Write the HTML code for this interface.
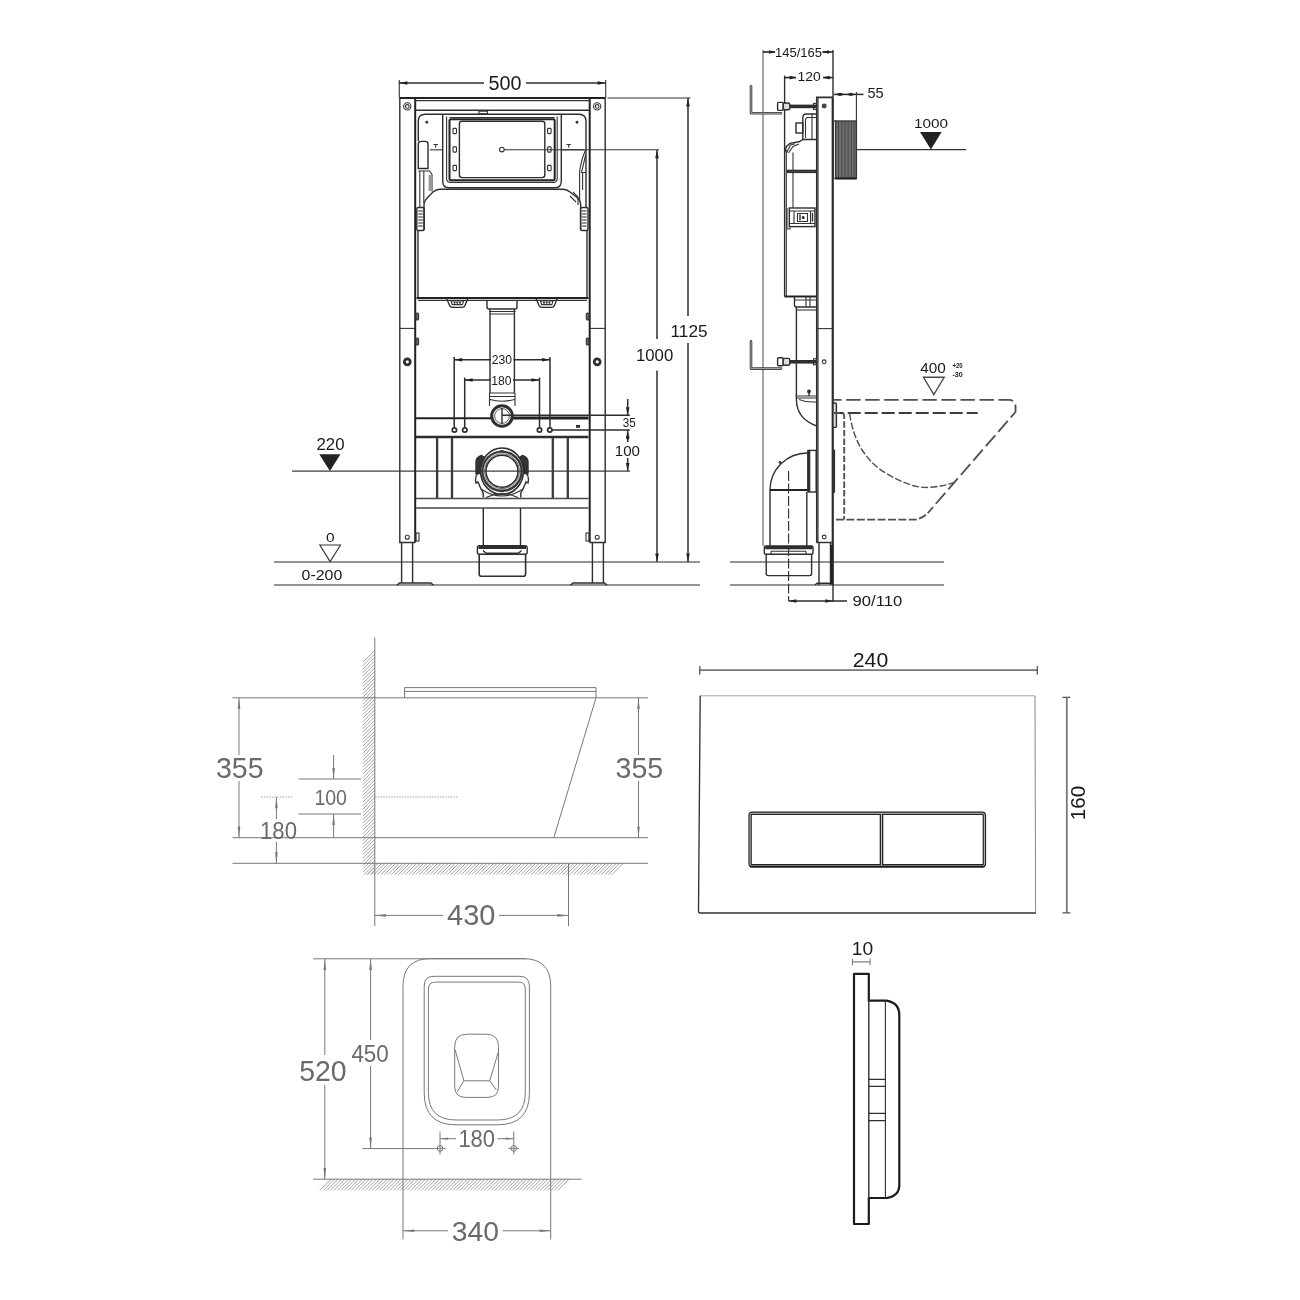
<!DOCTYPE html>
<html><head><meta charset="utf-8"><title>Installation drawing</title>
<style>
html,body{margin:0;padding:0;background:#fff}
svg{display:block;filter:blur(0.4px)}
text{font-family:"Liberation Sans",sans-serif}
.k{fill:none;stroke:#2e2e2e;stroke-width:1.4}
.k2{fill:none;stroke:#222;stroke-width:2}
.k3{fill:none;stroke:#222;stroke-width:2.8}
.t{fill:none;stroke:#333;stroke-width:1.1}
.gr{fill:none;stroke:#707070;stroke-width:1.4}
.h{fill:none;stroke:#6a6a6a;stroke-width:1.2}
.d{fill:none;stroke:#2c2c2c;stroke-width:1.5}
.ds{fill:none;stroke:#505050;stroke-width:1.85;stroke-dasharray:14.45 4.6}
.g{fill:none;stroke:#787878;stroke-width:1}
.gl{fill:none;stroke:#9a9a9a;stroke-width:0.9}
.w{fill:#fff;stroke:#262626;stroke-width:1.4}
.tk{fill:#1a1a1a}
.tg{fill:#6a6a6a}
</style></head><body>
<svg width="1300" height="1300" viewBox="0 0 1300 1300">
<rect x="0" y="0" width="1300" height="1300" fill="#fff"/>
<g id="front">
<line class="t" x1="292" y1="471.1" x2="630" y2="471.1" style="stroke:#3c3c3c;stroke-width:1.3"/>
<line class="gr" x1="274" y1="562" x2="700" y2="562" />
<line class="gr" x1="274" y1="585" x2="700" y2="585" />
<path class="k" d="M415.2 542.5H399.8V98M589.7 542.5H605.2V98" />
<line class="k2" x1="415.2" y1="98" x2="415.2" y2="542.5" />
<line class="k2" x1="589.7" y1="98" x2="589.7" y2="542.5" />
<line class="k2" x1="400" y1="98" x2="605" y2="98" />
<line class="t" x1="415.2" y1="100.6" x2="589.7" y2="100.6" />
<line class="k" x1="415.2" y1="110.3" x2="589.7" y2="110.3" />
<line class="t" x1="400" y1="328.4" x2="415" y2="328.4" />
<line class="t" x1="590" y1="328.4" x2="605" y2="328.4" />
<path class="k" d="M401.6 542.5V583M412.6 542.5V583M592.4 542.5V583M603.4 542.5V583" />
<path class="k" d="M397 585.2L399.5 583H431l2.5 2.2M570.5 585.2l2.5-2.2H604.5l2.5 2.2" />
<circle class="t" cx="407.3" cy="106.4" r="3.6" />
<circle class="t" cx="407.3" cy="106.4" r="1.8" />
<circle class="k" cx="407.3" cy="361.8" r="3" style="stroke-width:2.7"/>
<circle class="t" cx="407.3" cy="537.2" r="2" />
<circle class="t" cx="597.2" cy="106.4" r="3.6" />
<circle class="t" cx="597.2" cy="106.4" r="1.8" />
<circle class="k" cx="597.2" cy="361.8" r="3" style="stroke-width:2.7"/>
<circle class="t" cx="597.2" cy="537.2" r="2" />
<rect class="t" x="416" y="313.0" width="2.6" height="7.0" rx="1" style="fill:#666"/>
<rect class="t" x="586.3" y="313.0" width="2.6" height="7.0" rx="1" style="fill:#666"/>
<rect class="t" x="416" y="338.0" width="2.6" height="7.0" rx="1" style="fill:#666"/>
<rect class="t" x="586.3" y="338.0" width="2.6" height="7.0" rx="1" style="fill:#666"/>
<rect class="t" x="416" y="533" width="3" height="8" rx="0" />
<rect class="t" x="586" y="533" width="3" height="8" rx="0" />
<path class="k" d="M418.3 141V121.2Q418.3 114.2 425.3 114.2H579Q586 114.2 586 121.2V207" />
<path class="k" d="M442.7 114.6V181Q442.7 187.7 449 187.7H555Q561.3 187.7 561.3 181V114.6" />
<path class="t" d="M446.6 116.6V178.5Q446.6 182.4 450.5 182.4H553.3Q557.2 182.4 557.2 178.5V116.6" />
<rect class="k2" x="449.5" y="119.3" width="105.2" height="60.9" rx="1.5" />
<rect class="k" x="459.4" y="121.2" width="85.4" height="56.4" rx="2.5" />
<line class="t" x1="449.5" y1="117.5" x2="554.7" y2="117.5" />
<rect class="t" x="453" y="128.4" width="3.5" height="5.2" rx="0.8" />
<rect class="t" x="547.6" y="128.4" width="3.5" height="5.2" rx="0.8" />
<rect class="t" x="453" y="146.9" width="3.5" height="5.2" rx="0.8" />
<rect class="t" x="547.6" y="146.9" width="3.5" height="5.2" rx="0.8" />
<rect class="t" x="453" y="165.4" width="3.5" height="5.2" rx="0.8" />
<rect class="t" x="547.6" y="165.4" width="3.5" height="5.2" rx="0.8" />
<rect class="t" x="479" y="111.2" width="8.5" height="2.6" rx="0" />
<circle class="t" cx="426.8" cy="122.2" r="0.9" style="fill:#333"/>
<circle class="t" cx="577" cy="122.2" r="0.9" style="fill:#333"/>
<path class="t" d="M433.5 144.5h4.4M435.7 144.5v3.2M566.5 144.5h4.4M568.7 144.5v3.2" />
<line class="t" x1="430" y1="149.8" x2="442.7" y2="149.8" />
<line class="t" x1="561.3" y1="149.8" x2="584" y2="149.8" />
<path class="k" d="M418.3 168.5V144Q418.3 141.4 421 141.4H425.5Q428 141.4 428 144V168.5Z" />
<path class="t" d="M418.3 171H429.5L432 174.5V191.5M419.8 171V207M423.8 171V203" />
<rect class="t" x="428.6" y="175" width="3.4" height="16" rx="0" style="fill:#999;stroke:none"/>
<path class="t" d="M585.4 150Q581 160 579.6 171V201M585.6 155L581.5 172.5H585.6M582.6 173V190" />
<path class="k" d="M418 298V230M424 230V204Q424.5 200.5 428 197L433 192Q436 189.3 440 189.3H563Q567 189.3 570 192L577 197.5Q580.6 200.5 580.6 204V230M587 230V298" />
<line class="k2" x1="416.5" y1="298" x2="588.5" y2="298" />
<line class="t" x1="418" y1="300.4" x2="587" y2="300.4" />
<rect class="k" x="416.8" y="207.5" width="7.4" height="23.0" rx="1.5" />
<line class="t" x1="418.3" y1="211" x2="422.8" y2="211" />
<line class="t" x1="418.3" y1="214" x2="422.8" y2="214" />
<line class="t" x1="418.3" y1="217" x2="422.8" y2="217" />
<line class="t" x1="418.3" y1="220" x2="422.8" y2="220" />
<line class="t" x1="418.3" y1="223" x2="422.8" y2="223" />
<line class="t" x1="418.3" y1="226" x2="422.8" y2="226" />
<rect class="k" x="580.6" y="207.5" width="7.4" height="23.0" rx="1.5" />
<line class="t" x1="582.1" y1="211" x2="586.6" y2="211" />
<line class="t" x1="582.1" y1="214" x2="586.6" y2="214" />
<line class="t" x1="582.1" y1="217" x2="586.6" y2="217" />
<line class="t" x1="582.1" y1="220" x2="586.6" y2="220" />
<line class="t" x1="582.1" y1="223" x2="586.6" y2="223" />
<line class="t" x1="582.1" y1="226" x2="586.6" y2="226" />
<path class="t" d="M573 192l5 5v8M570 196l6 6" />
<path class="k" d="M446.6 298.5L449.6 305.5Q450.40000000000003 307.4 452.6 307.4H462.1Q464.3 307.4 465.0 305.5L467.8 298.5" />
<path class="t" d="M451.1 301H463.6L462.40000000000003 304.6H452.3Z" />
<circle class="t" cx="454.6" cy="302.8" r="0.5" style="fill:#333"/>
<circle class="t" cx="457.3" cy="302.8" r="0.5" style="fill:#333"/>
<circle class="t" cx="460.0" cy="302.8" r="0.5" style="fill:#333"/>
<path class="k" d="M536 298.5L539 305.5Q539.8 307.4 542 307.4H551.5Q553.7 307.4 554.4 305.5L557.2 298.5" />
<path class="t" d="M540.5 301H553L551.8 304.6H541.7Z" />
<circle class="t" cx="544" cy="302.8" r="0.5" style="fill:#333"/>
<circle class="t" cx="546.7" cy="302.8" r="0.5" style="fill:#333"/>
<circle class="t" cx="549.4" cy="302.8" r="0.5" style="fill:#333"/>
<path class="k" d="M487 300.4V307Q487 309 489 309H515Q517 309 517 307V300.4" />
<path class="k" d="M490 309V393M514.4 309V393" />
<path class="t" d="M489 311.5H515.5M490 314H514.4" />
<path class="t" d="M489.5 393H515M489.5 396.5H515M490 399.5Q502 403 514.5 399.5M489.5 393V406M515 393V406" />
<line class="k2" x1="416" y1="418.3" x2="491" y2="418.3" />
<line class="k" x1="512.5" y1="415.2" x2="588.5" y2="415.2" />
<line class="k3" x1="512.5" y1="418" x2="588.5" y2="418" />
<line class="k" x1="416" y1="437" x2="588.5" y2="437" style="stroke-width:2.4"/>
<path class="k" d="M416 498.5H588.5M416 508H588.5" style="stroke:#4a4a4a;stroke-width:1.7"/>
<line class="k" x1="437.1" y1="437.8" x2="437.1" y2="498" style="stroke-width:2.3;stroke:#3a3a3a"/>
<line class="k" x1="452" y1="437.8" x2="452" y2="498" style="stroke-width:2.3;stroke:#3a3a3a"/>
<line class="k" x1="552.8" y1="437.8" x2="552.8" y2="498" style="stroke-width:2.3;stroke:#3a3a3a"/>
<line class="k" x1="567.8" y1="437.8" x2="567.8" y2="498" style="stroke-width:2.3;stroke:#3a3a3a"/>
<circle class="w" cx="502" cy="416" r="10.3" style="stroke-width:3;stroke:#303030"/>
<circle class="t" cx="502" cy="416" r="7.4" style="stroke-width:0.8"/>
<path class="k" d="M502 408V424M502.5 415.3H511" />
<path class="k" d="M478 473Q474.5 476 476 483L478 482L481 489L483.2 493V497.5M526 473Q529.5 476 528 483L526 482L523 489L520.8 493V497.5" />
<path class="k" d="M476 473.5V462Q476 457.5 481.5 455.5L484.5 457.5Q479.5 464 480 473.5ZM528 473.5V462Q528 457.5 522.5 455.5L519.5 457.5Q524.5 464 524 473.5Z" style="fill:#333"/>
<path class="t" d="M481 489Q502 503 523 489M486 497.5Q502 490 518 497.5" />
<ellipse class="k" cx="502" cy="471.2" rx="21.4" ry="23.2" style="stroke-width:1.6"/>
<circle class="k" cx="502" cy="471.2" r="19.6" style="stroke-width:2.4;stroke:#3a3a3a"/>
<circle class="k" cx="502" cy="471.2" r="17.4" style="stroke-width:1;stroke:#666"/>
<circle class="k" cx="502" cy="471.2" r="16" style="stroke-width:1.5"/>
<rect class="t" x="500.3" y="450.2" width="3.4" height="1.4" rx="0" style="fill:#333;stroke:none"/>
<rect class="t" x="500.3" y="490.8" width="3.4" height="1.4" rx="0" style="fill:#333;stroke:none"/>
<path class="k" d="M483.3 508V546M520.5 508V546" />
<rect class="k" x="477.4" y="545.6" width="49.8" height="8.7" rx="2" />
<line class="k" x1="478.5" y1="547.4" x2="526" y2="547.4" style="stroke-width:3.4"/>
<path class="k" d="M486 553.2H518.5M483 550.5L486 553.2M521.5 550.5L518.5 553.2" />
<path class="k" d="M479.2 554.3V574Q479.2 576.3 481.5 576.3H523.3Q525.6 576.3 525.6 574V554.3" style="stroke-width:1.6"/>
<line class="d" x1="398.8" y1="83" x2="484" y2="83" />
<line class="d" x1="526" y1="83" x2="606" y2="83" />
<line class="t" x1="399.3" y1="80" x2="399.3" y2="98" />
<line class="t" x1="605.7" y1="80" x2="605.7" y2="98" />
<polygon points="399.3,83 407.3,81.2 407.3,84.8" fill="#222"/>
<polygon points="605.7,83 597.7,81.2 597.7,84.8" fill="#222"/>
<text class="tk" x="488.5" y="90" font-size="19.5" text-anchor="start" textLength="33" lengthAdjust="spacingAndGlyphs" >500</text>
<line class="t" x1="607.5" y1="98" x2="690.5" y2="98" />
<line class="d" x1="688" y1="98" x2="688" y2="316" />
<line class="d" x1="688" y1="343" x2="688" y2="562" />
<polygon points="688,98.5 686.2,106.5 689.8,106.5" fill="#222"/>
<polygon points="688,561.5 686.2,553.5 689.8,553.5" fill="#222"/>
<text class="tk" x="670.5" y="336.6" font-size="16.2" text-anchor="start" textLength="37.2" lengthAdjust="spacingAndGlyphs" >1125</text>
<circle class="t" cx="501.9" cy="149.6" r="2.3" style="fill:#fff"/>
<line class="t" x1="504.2" y1="149.8" x2="659" y2="149.8" />
<line class="d" x1="657" y1="150" x2="657" y2="339" />
<line class="d" x1="657" y1="370.5" x2="657" y2="562" />
<polygon points="657,150.2 655.2,158.2 658.8,158.2" fill="#222"/>
<polygon points="657,561.5 655.2,553.5 658.8,553.5" fill="#222"/>
<text class="tk" x="636" y="360.5" font-size="16.2" text-anchor="start" textLength="37.2" lengthAdjust="spacingAndGlyphs" >1000</text>
<path class="d" d="M454.2 357V427.5M550 357V427.5M464.7 377.5V427.5M539.5 377.5V427.5" />
<line class="d" x1="454.2" y1="359.7" x2="491" y2="359.7" />
<line class="d" x1="513.5" y1="359.7" x2="550" y2="359.7" />
<polygon points="454.2,359.7 462.2,357.9 462.2,361.5" fill="#222"/>
<polygon points="550,359.7 542,357.9 542,361.5" fill="#222"/>
<text class="tk" x="491.8" y="364" font-size="12.3" text-anchor="start" textLength="20.3" lengthAdjust="spacingAndGlyphs" >230</text>
<line class="d" x1="464.7" y1="380" x2="491" y2="380" />
<line class="d" x1="513" y1="380" x2="539.5" y2="380" />
<polygon points="464.7,380 472.7,378.2 472.7,381.8" fill="#222"/>
<polygon points="539.5,380 531.5,378.2 531.5,381.8" fill="#222"/>
<text class="tk" x="491.3" y="385.2" font-size="12.3" text-anchor="start" textLength="20.3" lengthAdjust="spacingAndGlyphs" >180</text>
<circle class="k" cx="454.4" cy="430" r="2.2" style="fill:#fff;stroke-width:1.7"/>
<circle class="k" cx="464.8" cy="430" r="2.2" style="fill:#fff;stroke-width:1.7"/>
<circle class="k" cx="539.5" cy="430" r="2.2" style="fill:#fff;stroke-width:1.7"/>
<circle class="k" cx="549.8" cy="430" r="2.2" style="fill:#fff;stroke-width:1.7"/>
<line class="d" x1="552" y1="430" x2="629.8" y2="430" />
<rect class="t" x="576.5" y="425.5" width="3.0" height="1.7" rx="0" style="fill:#333"/>
<line class="d" x1="588" y1="415.3" x2="629.8" y2="415.3" />
<line class="d" x1="627.7" y1="399" x2="627.7" y2="415" />
<polygon points="627.7,415.3 625.9000000000001,407.3 629.5,407.3" fill="#222"/>
<line class="d" x1="627.7" y1="430.5" x2="627.7" y2="442" />
<polygon points="627.7,430.4 625.9000000000001,438.4 629.5,438.4" fill="#222"/>
<polygon points="627.7,441.5 625.9000000000001,436.5 629.5,436.5" fill="#222"/>
<line class="d" x1="627.7" y1="458" x2="627.7" y2="471" />
<polygon points="627.7,471 625.9000000000001,463 629.5,463" fill="#222"/>
<text class="tk" x="622.8" y="426.8" font-size="12.3" text-anchor="start" textLength="13" lengthAdjust="spacingAndGlyphs" >35</text>
<text class="tk" x="614.8" y="456" font-size="14.8" text-anchor="start" textLength="25.2" lengthAdjust="spacingAndGlyphs" >100</text>
<text class="tk" x="316.5" y="450.4" font-size="15.6" text-anchor="start" textLength="28" lengthAdjust="spacingAndGlyphs" >220</text>
<polygon points="319.3,454.3 340.5,454.3 329.9,471" fill="#222"/>
<text class="tk" x="326" y="541.6" font-size="13.6" text-anchor="start" textLength="8.6" lengthAdjust="spacingAndGlyphs" >0</text>
<polygon class="t" points="319.8,545 340.5,545 330.1,561.6"/>
<text class="tk" x="301.6" y="579.6" font-size="14.2" text-anchor="start" textLength="40.7" lengthAdjust="spacingAndGlyphs" >0-200</text>
</g>
<g id="side">
<line class="h" x1="763" y1="50" x2="763" y2="546" />
<line class="gr" x1="730" y1="562" x2="944" y2="562" />
<line class="gr" x1="730" y1="585" x2="944" y2="585" />
<line class="t" x1="856.3" y1="149.6" x2="966" y2="149.6" />
<path class="k" d="M816.8 542.5V97.4H833" style="stroke-width:1.7"/>
<line class="k" x1="832.6" y1="97.6" x2="832.6" y2="585" style="stroke-width:1.9"/>
<line class="k" x1="833" y1="50" x2="833" y2="602" />
<line class="t" x1="818" y1="98" x2="818" y2="542.5" />
<line class="t" x1="816.4" y1="328.6" x2="833" y2="328.6" />
<line class="k" x1="816.4" y1="542.5" x2="833" y2="542.5" />
<path class="k" d="M819 542.5V585M830.5 542.5V585" />
<path class="k" d="M815 585L817 583.3H833" />
<line class="k2" x1="831.8" y1="545" x2="831.8" y2="584" />
<circle class="t" cx="824.2" cy="106" r="1.9" />
<circle class="t" cx="824.2" cy="361.8" r="1.9" />
<circle class="t" cx="824.2" cy="537" r="1.9" />
<circle class="t" cx="824.2" cy="106" r="0.7" />
<line class="k" x1="784.6" y1="75.6" x2="784.6" y2="296.6" />
<line class="t" x1="786.3" y1="150" x2="786.3" y2="296.6" />
<line class="k2" x1="784.6" y1="296.6" x2="816.4" y2="296.6" />
<line class="t" x1="793" y1="152.6" x2="793" y2="208" />
<path class="k" d="M784.8 152L786.5 146.5L790 143.3L799 141.8L803 139.5H816" />
<path class="t" d="M786.5 153L790.5 145L795 143.8M788.5 153L793 146.5L799 144" />
<path class="k" d="M816 114H806Q802.8 114 802.8 118V140" />
<path class="t" d="M816 117.5H808Q805.5 117.5 805.5 120.5V138" />
<rect class="k" x="796" y="123" width="6.8" height="10" rx="0" />
<path class="t" d="M812 114V140" />
<rect class="k" x="787.4" y="170.4" width="29.0" height="2.0" rx="0" style="fill:#555"/>
<rect class="k" x="789.3" y="208" width="25.7" height="18.6" rx="0" />
<path class="t" d="M789.3 211H815M789.3 223.5H815M794 211V223.5M810.5 211V223.5M797.5 213.5H807.5V221.5H797.5Z" />
<circle class="t" cx="803.2" cy="217.5" r="1" style="fill:#333"/>
<path class="k" d="M800 214.5V220.5M812.5 213V221.5" />
<path class="t" d="M787 208V229L790 229V226.6" />
<path class="k" d="M751 86.2V113.3H781" style="stroke:#3c3c3c;stroke-width:2.6;stroke-linecap:round;stroke-linejoin:round"/>
<path class="k" d="M751 86.2V113.3H781" style="stroke:#c4c4c4;stroke-width:0.8;stroke-linecap:round;stroke-linejoin:round"/>
<line class="k" x1="789" y1="106.4" x2="816" y2="106.4" style="stroke-width:3.6"/>
<rect class="k" x="777.6" y="102.4" width="5.6" height="8.0" rx="1" style="fill:#fff"/>
<rect class="k" x="783.2" y="103.0" width="6.6" height="6.8" rx="1.5" style="fill:#ddd"/>
<rect class="t" x="813.5" y="103.4" width="2.9" height="6.0" rx="0" />
<path class="k" d="M751 341.4V368.6H781" style="stroke:#3c3c3c;stroke-width:2.6;stroke-linecap:round;stroke-linejoin:round"/>
<path class="k" d="M751 341.4V368.6H781" style="stroke:#c4c4c4;stroke-width:0.8;stroke-linecap:round;stroke-linejoin:round"/>
<line class="k" x1="789" y1="361.8" x2="816" y2="361.8" style="stroke-width:3.6"/>
<rect class="k" x="777.6" y="357.8" width="5.6" height="8.0" rx="1" style="fill:#fff"/>
<rect class="k" x="783.2" y="358.40000000000003" width="6.6" height="6.8" rx="1.5" style="fill:#ddd"/>
<rect class="t" x="813.5" y="358.8" width="2.9" height="6.0" rx="0" />
<rect class="t" x="833.5" y="121" width="2.5" height="57.5" rx="0" />
<rect class="k" x="835.6" y="121" width="20.8" height="57.6" rx="0" style="fill:#6e6e6e;stroke:#3a3a3a"/>
<line class="k" x1="838.5" y1="121.5" x2="838.5" y2="178" style="stroke:#444;stroke-width:0.9"/>
<line class="k" x1="841.8" y1="121.5" x2="841.8" y2="178" style="stroke:#444;stroke-width:0.9"/>
<line class="k" x1="845" y1="121.5" x2="845" y2="178" style="stroke:#444;stroke-width:0.9"/>
<line class="k" x1="848.2" y1="121.5" x2="848.2" y2="178" style="stroke:#444;stroke-width:0.9"/>
<line class="k" x1="851.5" y1="121.5" x2="851.5" y2="178" style="stroke:#444;stroke-width:0.9"/>
<line class="k" x1="854.2" y1="121.5" x2="854.2" y2="178" style="stroke:#444;stroke-width:0.9"/>
<line class="k2" x1="835.6" y1="178.4" x2="856.4" y2="178.4" />
<path class="k" d="M794.5 296.6V305Q794.5 307 796.5 307H816" />
<path class="t" d="M794.5 300H816M806 297V307M810 297V307" />
<path class="k" d="M796.4 307V400Q797 419 816.4 425.8" />
<path class="t" d="M796.4 310H816" />
<path class="t" d="M795.5 396H816.4M796.5 398H816.4" />
<path class="t" d="M799 399.5Q806 402.5 816 402" />
<path class="k" d="M809 392.5V396" />
<circle class="k" cx="809" cy="391.5" r="1.2" style="fill:#333"/>
<rect class="k" x="833" y="403" width="3.4" height="24.4" rx="1" style="fill:#ddd"/>
<rect class="k" x="832.8" y="450.4" width="1.6" height="41.6" rx="0" style="fill:#444"/>
<rect class="k" x="808" y="450.4" width="8.2" height="41.6" rx="0" />
<line class="k" x1="808.8" y1="451" x2="808.8" y2="491.6" style="stroke-width:3"/>
<path class="k" d="M807.4 453A37.4 37 0 0 0 770 490V546" />
<path class="k2" d="M770 490H807.4" />
<line class="k" x1="806.8" y1="492" x2="806.8" y2="546" />
<circle class="t" cx="780" cy="462.4" r="0.9" style="fill:#333"/>
<rect class="k" x="764.3" y="546" width="48.7" height="8.2" rx="1.5" />
<line class="k" x1="765.2" y1="547.6" x2="812.2" y2="547.6" style="stroke-width:3.2"/>
<path class="t" d="M771 551.2H806M771 551.2v3M806 551.2v3" />
<path class="k" d="M766.2 554.2V573.6Q766.2 575.6 768.2 575.6H809.6Q811.6 575.6 811.6 573.6V554.2" />
<line class="d" x1="788.6" y1="471" x2="788.6" y2="601" style="stroke-dasharray:10 2.5;stroke-width:1.1"/>
<path class="ds" d="M833.4 399.8H1008.5Q1015.5 399.8 1015.5 406.5V412L933 507" style="stroke-dashoffset:6.3"/>
<path class="ds" d="M933 507Q923.5 519.6 914 519.6H833.4" style="stroke-dasharray:8 2.4"/>
<line class="ds" x1="838.3" y1="413" x2="977.7" y2="413" style="stroke-dasharray:13 4;stroke-dashoffset:7.6;stroke-width:1.9;stroke:#3c3c3c"/>
<path class="ds" d="M834 413H841Q844.2 413 844.2 416V519.6" style="stroke-dasharray:6.4 2.2"/>
<path class="ds" d="M849.6 413.5Q853 437 863.5 452Q873 466 886.5 473.5Q899 481 911 485Q921 488 929.6 487.3Q943 486.5 953.5 482.7" style="stroke-dasharray:7 2.2;stroke-width:1.4"/>
<line class="d" x1="763" y1="52" x2="775" y2="52" style="stroke-width:1.7"/>
<line class="d" x1="822.5" y1="52" x2="833" y2="52" style="stroke-width:1.7"/>
<polygon points="776,52 769,50.2 769,53.8" fill="#222"/>
<polygon points="822,52 829,50.2 829,53.8" fill="#222"/>
<text class="tk" x="775" y="57" font-size="13.2" text-anchor="start" textLength="47" lengthAdjust="spacingAndGlyphs" >145/165</text>
<line class="d" x1="784.6" y1="77.6" x2="796" y2="77.6" style="stroke-width:1.7"/>
<line class="d" x1="823" y1="77.6" x2="833" y2="77.6" style="stroke-width:1.7"/>
<polygon points="796.6,77.6 789.6,75.8 789.6,79.39999999999999" fill="#222"/>
<polygon points="822.6,77.6 829.6,75.8 829.6,79.39999999999999" fill="#222"/>
<text class="tk" x="797.6" y="81.4" font-size="12.8" text-anchor="start" textLength="23.2" lengthAdjust="spacingAndGlyphs" >120</text>
<line class="d" x1="834" y1="94.4" x2="863.5" y2="94.4" />
<polygon points="834.6,94.4 840.1,92.7 840.1,96.10000000000001" fill="#222"/>
<polygon points="845.4,94.4 839.9,92.7 839.9,96.10000000000001" fill="#222"/>
<polygon points="845.6,94.4 851.1,92.7 851.1,96.10000000000001" fill="#222"/>
<polygon points="856,94.4 850.5,92.7 850.5,96.10000000000001" fill="#222"/>
<line class="t" x1="856.4" y1="92" x2="856.4" y2="121" />
<text class="tk" x="867.4" y="97.8" font-size="14.6" text-anchor="start" textLength="16.2" lengthAdjust="spacingAndGlyphs" >55</text>
<text class="tk" x="914" y="127.6" font-size="13.4" text-anchor="start" textLength="34" lengthAdjust="spacingAndGlyphs" >1000</text>
<polygon points="920,132 941.6,132 930.9,149.4" fill="#222"/>
<text class="tk" x="920.2" y="373.4" font-size="14" text-anchor="start" textLength="25.6" lengthAdjust="spacingAndGlyphs" >400</text>
<polygon class="t" points="923.5,377.3 944.2,377.3 933.8,394.6" style="stroke:#4a4a4a;stroke-width:1.4"/>
<text class="tk" x="952.4" y="368.2" font-size="6.4" text-anchor="start" textLength="10.2" lengthAdjust="spacingAndGlyphs" font-weight="bold">+20</text>
<text class="tk" x="952.4" y="376.9" font-size="6.4" text-anchor="start" textLength="10.2" lengthAdjust="spacingAndGlyphs" font-weight="bold">-30</text>
<line class="d" x1="788.6" y1="601" x2="847" y2="601" />
<polygon points="788.8,601 796.3,599.2 796.3,602.8" fill="#222"/>
<polygon points="832.8,601 825.3,599.2 825.3,602.8" fill="#222"/>
<text class="tk" x="852.6" y="606" font-size="14.4" text-anchor="start" textLength="49.6" lengthAdjust="spacingAndGlyphs" >90/110</text>
</g>
<g id="toiletside">
<path d="M363 662.1L374.6 650.5M363 665.6L374.6 654.0M363 669.1L374.6 657.5M363 672.6L374.6 661.0M363 676.1L374.6 664.5M363 679.6L374.6 668.0M363 683.1L374.6 671.5M363 686.6L374.6 675.0M363 690.1L374.6 678.5M363 693.6L374.6 682.0M363 697.1L374.6 685.5M363 700.6L374.6 689.0M363 704.1L374.6 692.5M363 707.6L374.6 696.0M363 711.1L374.6 699.5M363 714.6L374.6 703.0M363 718.1L374.6 706.5M363 721.6L374.6 710.0M363 725.1L374.6 713.5M363 728.6L374.6 717.0M363 732.1L374.6 720.5M363 735.6L374.6 724.0M363 739.1L374.6 727.5M363 742.6L374.6 731.0M363 746.1L374.6 734.5M363 749.6L374.6 738.0M363 753.1L374.6 741.5M363 756.6L374.6 745.0M363 760.1L374.6 748.5M363 763.6L374.6 752.0M363 767.1L374.6 755.5M363 770.6L374.6 759.0M363 774.1L374.6 762.5M363 777.6L374.6 766.0M363 781.1L374.6 769.5M363 784.6L374.6 773.0M363 788.1L374.6 776.5M363 791.6L374.6 780.0M363 795.1L374.6 783.5M363 798.6L374.6 787.0M363 802.1L374.6 790.5M363 805.6L374.6 794.0M363 809.1L374.6 797.5M363 812.6L374.6 801.0M363 816.1L374.6 804.5M363 819.6L374.6 808.0M363 823.1L374.6 811.5M363 826.6L374.6 815.0M363 830.1L374.6 818.5M363 833.6L374.6 822.0M363 837.1L374.6 825.5M363 840.6L374.6 829.0M363 844.1L374.6 832.5M363 847.6L374.6 836.0M363 851.1L374.6 839.5M363 854.6L374.6 843.0M363 858.1L374.6 846.5M363 861.6L374.6 850.0M363 865.1L374.6 853.5M363 868.6L374.6 857.0M363 872.1L374.6 860.5M364.0 874.6L374.6 864.0M367.5 874.6L374.6 867.5M371.0 874.6L374.6 871.0M374.5 874.6L374.6 874.5" class="gl"/>
<path d="M611.9 874.6L623.2 863.3M608.4 874.6L619.7 863.3M604.9 874.6L616.2 863.3M601.4 874.6L612.7 863.3M597.9 874.6L609.2 863.3M594.4 874.6L605.7 863.3M590.9 874.6L602.2 863.3M587.4 874.6L598.7 863.3M583.9 874.6L595.2 863.3M580.4 874.6L591.7 863.3M576.9 874.6L588.2 863.3M573.4 874.6L584.7 863.3M569.9 874.6L581.2 863.3M566.4 874.6L577.7 863.3M562.9 874.6L574.2 863.3M559.4 874.6L570.7 863.3M555.9 874.6L567.2 863.3M552.4 874.6L563.7 863.3M548.9 874.6L560.2 863.3M545.4 874.6L556.7 863.3M541.9 874.6L553.2 863.3M538.4 874.6L549.7 863.3M534.9 874.6L546.2 863.3M531.4 874.6L542.7 863.3M527.9 874.6L539.2 863.3M524.4 874.6L535.7 863.3M520.9 874.6L532.2 863.3M517.4 874.6L528.7 863.3M513.9 874.6L525.2 863.3M510.4 874.6L521.7 863.3M506.9 874.6L518.2 863.3M503.4 874.6L514.7 863.3M499.9 874.6L511.2 863.3M496.4 874.6L507.7 863.3M492.9 874.6L504.2 863.3M489.4 874.6L500.7 863.3M485.9 874.6L497.2 863.3M482.4 874.6L493.7 863.3M478.9 874.6L490.2 863.3M475.4 874.6L486.7 863.3M471.9 874.6L483.2 863.3M468.4 874.6L479.7 863.3M464.9 874.6L476.2 863.3M461.4 874.6L472.7 863.3M457.9 874.6L469.2 863.3M454.4 874.6L465.7 863.3M450.9 874.6L462.2 863.3M447.4 874.6L458.7 863.3M443.9 874.6L455.2 863.3M440.4 874.6L451.7 863.3M436.9 874.6L448.2 863.3M433.4 874.6L444.7 863.3M429.9 874.6L441.2 863.3M426.4 874.6L437.7 863.3M422.9 874.6L434.2 863.3M419.4 874.6L430.7 863.3M415.9 874.6L427.2 863.3M412.4 874.6L423.7 863.3M408.9 874.6L420.2 863.3M405.4 874.6L416.7 863.3M401.9 874.6L413.2 863.3M398.4 874.6L409.7 863.3M394.9 874.6L406.2 863.3M391.4 874.6L402.7 863.3M387.9 874.6L399.2 863.3M384.4 874.6L395.7 863.3M380.9 874.6L392.2 863.3M377.4 874.6L388.7 863.3M373.9 874.6L385.2 863.3M370.4 874.6L381.7 863.3M366.9 874.6L378.2 863.3" class="gl"/>
<line class="g" x1="374.8" y1="637.5" x2="374.8" y2="926" />
<line class="g" x1="232.5" y1="697.8" x2="648" y2="697.8" />
<line class="g" x1="232.5" y1="837.7" x2="648" y2="837.7" />
<line class="g" x1="232.5" y1="863.3" x2="648" y2="863.3" />
<path class="g" d="M404.6 697.8V687.6H596V697.8M404.6 691.4H596" />
<line class="g" x1="596" y1="697.8" x2="553.8" y2="837.7" />
<line class="g" x1="239" y1="697.8" x2="239" y2="755" />
<line class="g" x1="239" y1="781" x2="239" y2="837.7" />
<polygon points="239,698 237.7,709 240.3,709" fill="#777"/>
<polygon points="239,837.5 237.7,826.5 240.3,826.5" fill="#777"/>
<text class="tg" x="216" y="778.4" font-size="28.6" text-anchor="start" textLength="47.6" lengthAdjust="spacingAndGlyphs" >355</text>
<line class="g" x1="638.5" y1="697.8" x2="638.5" y2="755" />
<line class="g" x1="638.5" y1="781" x2="638.5" y2="837.7" />
<polygon points="638.5,698 637.2,709 639.8,709" fill="#777"/>
<polygon points="638.5,837.5 637.2,826.5 639.8,826.5" fill="#777"/>
<text class="tg" x="615.6" y="778.4" font-size="28.6" text-anchor="start" textLength="47.6" lengthAdjust="spacingAndGlyphs" >355</text>
<line class="g" x1="298.4" y1="779" x2="361" y2="779" />
<line class="g" x1="298.4" y1="814" x2="361" y2="814" />
<line class="g" x1="333.6" y1="755" x2="333.6" y2="779" />
<line class="g" x1="333.6" y1="814" x2="333.6" y2="837.7" />
<polygon points="333.6,779 332.3,768 334.90000000000003,768" fill="#777"/>
<polygon points="333.6,814 332.3,825 334.90000000000003,825" fill="#777"/>
<text class="tg" x="314.4" y="805" font-size="22.4" text-anchor="start" textLength="32.6" lengthAdjust="spacingAndGlyphs" >100</text>
<line class="gl" x1="261" y1="797" x2="292" y2="797" style="stroke-dasharray:1.5 1.2"/>
<line class="gl" x1="375" y1="797" x2="458.5" y2="797" style="stroke-dasharray:1.5 1.2"/>
<line class="g" x1="276.4" y1="797" x2="276.4" y2="819" />
<line class="g" x1="276.4" y1="842" x2="276.4" y2="863.3" />
<polygon points="276.4,797.2 275.09999999999997,808.2 277.7,808.2" fill="#777"/>
<polygon points="276.4,863.2 275.09999999999997,852.2 277.7,852.2" fill="#777"/>
<text class="tg" x="260" y="839.2" font-size="23.8" text-anchor="start" textLength="37" lengthAdjust="spacingAndGlyphs" >180</text>
<line class="g" x1="568.5" y1="863.3" x2="568.5" y2="926" />
<line class="g" x1="374.8" y1="915.4" x2="443" y2="915.4" />
<line class="g" x1="499" y1="915.4" x2="568.5" y2="915.4" />
<polygon points="375,915.4 386,914.1 386,916.6999999999999" fill="#777"/>
<polygon points="568.3,915.4 557.3,914.1 557.3,916.6999999999999" fill="#777"/>
<text class="tg" x="447" y="925.2" font-size="29.8" text-anchor="start" textLength="48.4" lengthAdjust="spacingAndGlyphs" >430</text>
</g>
<g id="toilettop">
<path d="M557.8 1190.4L569 1179.2M554.3 1190.4L565.5 1179.2M550.8 1190.4L562.0 1179.2M547.3 1190.4L558.5 1179.2M543.8 1190.4L555.0 1179.2M540.3 1190.4L551.5 1179.2M536.8 1190.4L548.0 1179.2M533.3 1190.4L544.5 1179.2M529.8 1190.4L541.0 1179.2M526.3 1190.4L537.5 1179.2M522.8 1190.4L534.0 1179.2M519.3 1190.4L530.5 1179.2M515.8 1190.4L527.0 1179.2M512.3 1190.4L523.5 1179.2M508.8 1190.4L520.0 1179.2M505.3 1190.4L516.5 1179.2M501.8 1190.4L513.0 1179.2M498.3 1190.4L509.5 1179.2M494.8 1190.4L506.0 1179.2M491.3 1190.4L502.5 1179.2M487.8 1190.4L499.0 1179.2M484.3 1190.4L495.5 1179.2M480.8 1190.4L492.0 1179.2M477.3 1190.4L488.5 1179.2M473.8 1190.4L485.0 1179.2M470.3 1190.4L481.5 1179.2M466.8 1190.4L478.0 1179.2M463.3 1190.4L474.5 1179.2M459.8 1190.4L471.0 1179.2M456.3 1190.4L467.5 1179.2M452.8 1190.4L464.0 1179.2M449.3 1190.4L460.5 1179.2M445.8 1190.4L457.0 1179.2M442.3 1190.4L453.5 1179.2M438.8 1190.4L450.0 1179.2M435.3 1190.4L446.5 1179.2M431.8 1190.4L443.0 1179.2M428.3 1190.4L439.5 1179.2M424.8 1190.4L436.0 1179.2M421.3 1190.4L432.5 1179.2M417.8 1190.4L429.0 1179.2M414.3 1190.4L425.5 1179.2M410.8 1190.4L422.0 1179.2M407.3 1190.4L418.5 1179.2M403.8 1190.4L415.0 1179.2M400.3 1190.4L411.5 1179.2M396.8 1190.4L408.0 1179.2M393.3 1190.4L404.5 1179.2M389.8 1190.4L401.0 1179.2M386.3 1190.4L397.5 1179.2M382.8 1190.4L394.0 1179.2M379.3 1190.4L390.5 1179.2M375.8 1190.4L387.0 1179.2M372.3 1190.4L383.5 1179.2M368.8 1190.4L380.0 1179.2M365.3 1190.4L376.5 1179.2M361.8 1190.4L373.0 1179.2M358.3 1190.4L369.5 1179.2M354.8 1190.4L366.0 1179.2M351.3 1190.4L362.5 1179.2M347.8 1190.4L359.0 1179.2M344.3 1190.4L355.5 1179.2M340.8 1190.4L352.0 1179.2M337.3 1190.4L348.5 1179.2M333.8 1190.4L345.0 1179.2M330.3 1190.4L341.5 1179.2M326.8 1190.4L338.0 1179.2M323.3 1190.4L334.5 1179.2M319.8 1190.4L331.0 1179.2" class="gl"/>
<line class="g" x1="313.2" y1="958.8" x2="526" y2="958.8" />
<line class="g" x1="313.2" y1="1179.2" x2="581.5" y2="1179.2" />
<path class="g" d="M403 1239.5V986Q403 958.6 430.5 958.6H523Q550.7 958.6 550.7 986V1239.5" />
<path class="g" d="M424.2 986Q424.2 976.3 434 976.3H519.6Q529.4 976.3 529.4 986V1093Q529.4 1124.8 497.5 1124.8H456Q424.2 1124.8 424.2 1093Z" />
<path class="g" d="M428.4 989Q428.4 982.1 435.4 982.1H518.3Q525.3 982.1 525.3 989V1092.5Q525.3 1120 497.6 1120H456Q428.4 1120 428.4 1092.5Z" />
<path class="g" d="M454.7 1046.7Q454.7 1034.2 467.2 1034.2H486Q498.5 1034.2 498.5 1046.7V1086.4Q498.5 1097.4 487.5 1097.4H465.7Q454.7 1097.4 454.7 1086.4Z" />
<path class="g" d="M455.2 1050L463.9 1080.8H489.7L498.2 1052.4M463.9 1080.8L457.4 1091.4M489.7 1080.8L496.4 1090" />
<circle class="g" cx="440" cy="1148.4" r="2.8" />
<line class="g" x1="434.5" y1="1148.4" x2="445.5" y2="1148.4" />
<line class="g" x1="440" y1="1131.5" x2="440" y2="1154.5" />
<circle class="g" cx="513.8" cy="1148.4" r="2.8" />
<line class="g" x1="508.29999999999995" y1="1148.4" x2="519.3" y2="1148.4" />
<line class="g" x1="513.8" y1="1131.5" x2="513.8" y2="1154.5" />
<line class="g" x1="362.5" y1="1148.6" x2="434.5" y2="1148.6" />
<line class="g" x1="440" y1="1138.7" x2="456" y2="1138.7" />
<line class="g" x1="497.5" y1="1138.7" x2="513.8" y2="1138.7" />
<polygon points="440.2,1138.7 448.2,1137.6000000000001 448.2,1139.8" fill="#777"/>
<polygon points="513.6,1138.7 505.6,1137.6000000000001 505.6,1139.8" fill="#777"/>
<text class="tg" x="458.4" y="1146.6" font-size="24" text-anchor="start" textLength="36.6" lengthAdjust="spacingAndGlyphs" >180</text>
<line class="g" x1="324.8" y1="958.8" x2="324.8" y2="1055" />
<line class="g" x1="324.8" y1="1085" x2="324.8" y2="1179.2" />
<polygon points="324.8,959 323.5,970 326.1,970" fill="#777"/>
<polygon points="324.8,1179 323.5,1168 326.1,1168" fill="#777"/>
<text class="tg" x="299.2" y="1080.6" font-size="28.8" text-anchor="start" textLength="47.4" lengthAdjust="spacingAndGlyphs" >520</text>
<line class="g" x1="370.6" y1="958.8" x2="370.6" y2="1040" />
<line class="g" x1="370.6" y1="1066" x2="370.6" y2="1148.6" />
<polygon points="370.6,959 369.3,970 371.90000000000003,970" fill="#777"/>
<polygon points="370.6,1148.4 369.3,1137.4 371.90000000000003,1137.4" fill="#777"/>
<text class="tg" x="351.4" y="1062.2" font-size="23" text-anchor="start" textLength="37.4" lengthAdjust="spacingAndGlyphs" >450</text>
<line class="g" x1="403" y1="1230.8" x2="448" y2="1230.8" />
<line class="g" x1="502.5" y1="1230.8" x2="550.8" y2="1230.8" />
<polygon points="403.2,1230.8 414.2,1229.5 414.2,1232.1" fill="#777"/>
<polygon points="550.6,1230.8 539.6,1229.5 539.6,1232.1" fill="#777"/>
<text class="tg" x="451.8" y="1240.6" font-size="28.2" text-anchor="start" textLength="47.2" lengthAdjust="spacingAndGlyphs" >340</text>
</g>
<g id="plate">
<line class="k" x1="699.8" y1="670.2" x2="1037.3" y2="670.2" style="stroke:#777;stroke-width:1.8"/>
<path class="k" d="M699.8 666V674.4M1037.3 666V674.4" style="stroke:#555;stroke-width:1.3"/>
<text class="tk" x="852.8" y="667" font-size="20.4" text-anchor="start" textLength="35.4" lengthAdjust="spacingAndGlyphs" >240</text>
<path class="k" d="M700.2 695.8H1035" style="stroke:#9a9a9a;stroke-width:0.9"/>
<path class="k" d="M1035 695.8L1035.6 913.2" style="stroke:#858585;stroke-width:1"/>
<path class="k" d="M700.2 695.8L698.5 911.5Q698.5 913 700 913H1035.8" style="stroke:#333;stroke-width:1.35"/>
<rect class="k" x="750.1" y="813.3" width="234.3" height="52.5" rx="2.2" style="stroke:#262626;stroke-width:3.4"/>
<line class="k" x1="881.5" y1="813" x2="881.5" y2="866" style="stroke:#262626;stroke-width:3.6"/>
<rect class="k" x="750.1" y="813.3" width="234.3" height="52.5" rx="1.8" style="stroke:#d2d2d2;stroke-width:0.9"/>
<line class="k" x1="881.5" y1="813.6" x2="881.5" y2="865.4" style="stroke:#d2d2d2;stroke-width:0.9"/>
<line class="k" x1="750" y1="866.6" x2="984.4" y2="866.6" style="stroke:#1c1c1c;stroke-width:1.6"/>
<line class="k" x1="1066.8" y1="697.4" x2="1066.8" y2="912.8" style="stroke:#777;stroke-width:1.8"/>
<path class="k" d="M1062.4 697.4H1070.4M1062.4 912.8H1070.4" style="stroke:#555;stroke-width:1.3"/>
<text class="tk" font-size="20.4" textLength="34.6" lengthAdjust="spacingAndGlyphs" transform="translate(1085,820.2) rotate(-90)">160</text>
<text class="tk" x="851.8" y="955" font-size="18.8" text-anchor="start" textLength="21.4" lengthAdjust="spacingAndGlyphs" >10</text>
<line class="k" x1="852.4" y1="961.9" x2="870.1" y2="961.9" style="stroke:#777;stroke-width:1.2"/>
<path class="k" d="M852.4 958.6V965.2M870.1 958.6V965.2" style="stroke:#777;stroke-width:1"/>
<path class="k" d="M854 973.8H868.8V1000.7H886.6Q899.3 1003 899.3 1015V1185Q899.3 1196 886.6 1198H868.8V1224H854Z" style="stroke:#1c1c1c;stroke-width:2.2;stroke-linejoin:round"/>
<line class="k" x1="868.8" y1="1000.7" x2="868.8" y2="1198" />
<line class="k" x1="885.4" y1="1001" x2="885.4" y2="1198" style="stroke-width:1.1"/>
<path class="k" d="M868.8 1079.4H885.4M868.8 1086.3H885.4M868.8 1113.4H885.4M868.8 1120.6H885.4" style="stroke-width:1.2"/>
</g>
</svg>
</body></html>
